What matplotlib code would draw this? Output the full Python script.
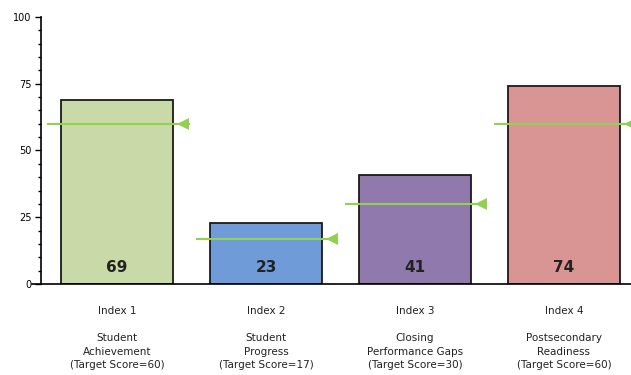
import matplotlib
matplotlib.use("Agg")
import matplotlib.pyplot as plt
from matplotlib.ticker import MultipleLocator

categories = ["Index 1\n\nStudent\nAchievement\n(Target Score=60)",
              "Index 2\n\nStudent\nProgress\n(Target Score=17)",
              "Index 3\n\nClosing\nPerformance Gaps\n(Target Score=30)",
              "Index 4\n\nPostsecondary\nReadiness\n(Target Score=60)"]
scores = [69, 23, 41, 74]
targets = [60, 17, 30, 60]
bar_colors = ["#c9d9a8", "#6f9bd9", "#9079ad", "#d99593"]
target_color = "#92d050"

fig = plt.figure(figsize=(6.31, 3.75), dpi=100)
ax = fig.add_axes([0.065, 0.2427, 0.935, 0.712])

x = list(range(len(scores)))
ax.bar(x, scores, width=0.75, color=bar_colors, edgecolor="#1a1a1a", linewidth=1.3, zorder=2)

for xi, s, t in zip(x, scores, targets):
    ax.text(xi, 3.5, str(s), ha="center", va="bottom", fontsize=11, fontweight="bold", color="#222222", zorder=4)
    ax.plot([xi - 0.46, xi + 0.48], [t, t], color=target_color, linewidth=1.5, zorder=3)
    ax.plot([xi + 0.44], [t], marker="<", markersize=8, color=target_color, markeredgewidth=0, zorder=3)

ax.set_ylim(0, 100)
ax.set_xlim(-0.51, 3.45)
ax.yaxis.set_major_locator(MultipleLocator(25))
ax.yaxis.set_minor_locator(MultipleLocator(5))
ax.tick_params(axis="y", which="major", direction="out", length=4, width=1, labelsize=7, pad=3)
ax.tick_params(axis="y", which="minor", direction="out", length=2.5, width=1)
ax.set_xticks(x)
ax.set_xticklabels([""] * len(x))
ax.tick_params(axis="x", length=0)

trans = ax.get_xaxis_transform()
for xi, lab in zip(x, categories):
    ax.text(xi, -0.082, lab, transform=trans, ha="center", va="top",
            fontsize=7.5, linespacing=1.45, color="#222222")

for side in ["top", "right"]:
    ax.spines[side].set_visible(False)
ax.spines["left"].set_linewidth(1.2)
ax.spines["bottom"].set_linewidth(1.2)
ax.spines["bottom"].set_bounds(-0.57, 3.45)
ax.spines["bottom"].set_position(("data", 0))

fig.savefig("out.png", dpi=100)
